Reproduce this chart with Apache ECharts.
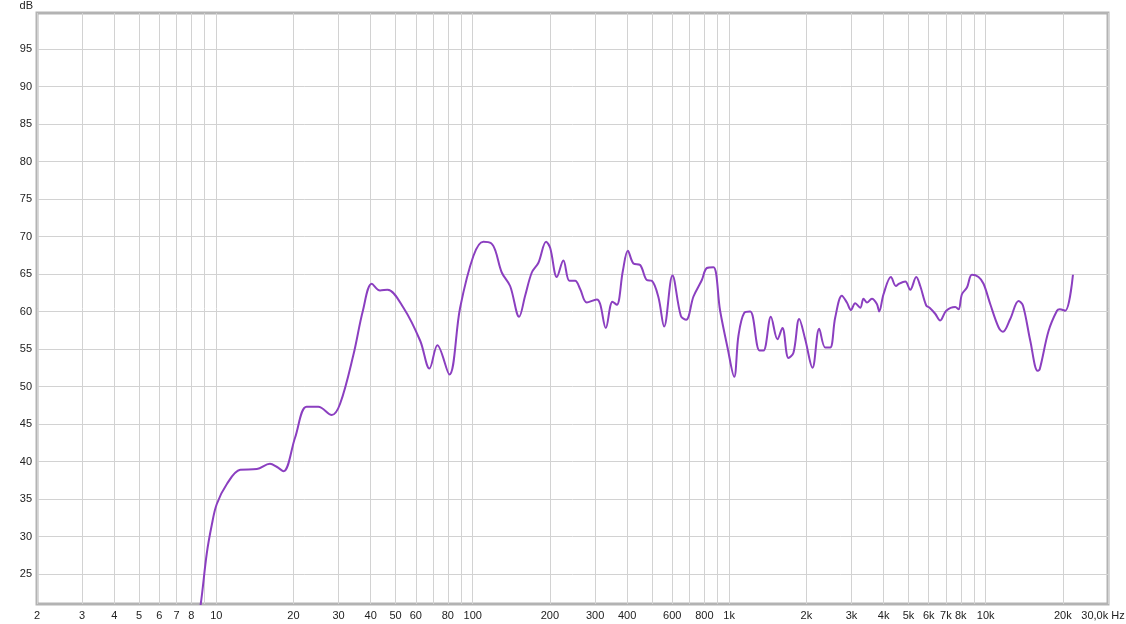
<!DOCTYPE html>
<html>
<head>
<meta charset="utf-8">
<script src="https://cdn.jsdelivr.net/npm/echarts@6/dist/echarts.min.js"></script>
<style>
html,body{margin:0;padding:0;background:#fff;}
#chart{width:1126px;height:624px;}
</style>
</head>
<body>
<div id="chart"></div>
<script>
// Frequency (Hz) and level (dB)
const freqs = [8.5, 8.7, 9.18, 9.6, 10.04, 11.0, 12.4, 14.4, 16.2, 17.2, 18.3, 20.3, 22.5, 25.0, 28.2, 30.4, 34.3, 37.3, 40.4, 43.5, 46.5, 53.7, 62.4, 67.8, 72.8, 81.1, 89.3, 100.6, 110, 118, 122.6, 129.8, 139.9, 151.7, 160.1, 170, 180.4, 193.3, 200.4, 212.8, 225.7, 238.2, 250.8, 262.3, 278.5, 304.8, 314, 330.4, 350.6, 364.7, 384.9, 402.6, 423.3, 449.5, 477.4, 499.3, 529.8, 557.7, 601.1, 648.2, 679.7, 725.8, 782.5, 818.5, 868.4, 921.9, 985.1, 1046, 1087, 1144, 1208, 1313, 1361, 1454, 1543, 1613, 1703, 1781, 1875, 1979, 2113, 2244, 2369, 2477, 2591, 2751, 2877, 2983, 3100, 3243, 3340, 3446, 3601, 3767, 3845, 3998, 4272, 4468, 4596, 4858, 5081, 5363, 5559, 5867, 6046, 6358, 6650, 7019, 7610, 7840, 8082, 8454, 8842, 9382, 9813, 10420, 11230, 11680, 12470, 13440, 13980, 14930, 15940, 16250, 17590, 18970, 19450, 20440, 21900];
const levels = [19.5, 21.0, 27.7, 31.5, 34.3, 37.0, 38.9, 39.0, 39.7, 39.3, 38.7, 43.2, 47.3, 47.3, 46.2, 47.7, 54.3, 60.1, 63.7, 62.8, 62.9, 60.5, 56.1, 52.4, 55.5, 51.6, 60.5, 67.4, 69.3, 69.1, 68.1, 65.2, 63.4, 59.3, 62.1, 65.2, 66.5, 69.3, 68.5, 64.6, 66.8, 64.1, 64.1, 63.0, 61.2, 61.6, 61.0, 57.8, 61.3, 60.9, 65.4, 68.1, 66.4, 66.2, 64.2, 64.1, 61.9, 58.0, 64.8, 59.4, 58.9, 62.0, 64.2, 65.8, 65.9, 60.1, 55.2, 51.3, 56.8, 59.8, 60.0, 54.8, 54.8, 59.3, 56.3, 57.8, 53.8, 54.5, 59.0, 56.3, 52.5, 57.7, 55.2, 55.2, 59.2, 62.1, 61.2, 60.2, 61.1, 60.5, 61.7, 61.2, 61.7, 61.0, 60.0, 62.3, 64.6, 63.4, 63.7, 64.0, 62.9, 64.6, 63.4, 60.8, 60.5, 59.7, 58.8, 60.1, 60.6, 60.3, 62.3, 63.2, 64.9, 64.6, 63.7, 61.0, 57.9, 57.3, 59.0, 61.4, 60.8, 56.1, 52.1, 52.3, 57.4, 60.1, 60.3, 60.1, 64.9];

// Axis ticks
const xGridValues = [2,3,4,5,6,7,8,9,10,20,30,40,50,60,70,80,90,100,200,300,400,500,600,700,800,900,1000,2000,3000,4000,5000,6000,7000,8000,9000,10000,20000,30000];
const xLabelValues = [2,3,4,5,6,7,8,10,20,30,40,50,60,80,100,200,300,400,600,800,1000,2000,3000,4000,5000,6000,7000,8000,10000,20000,30000];
const yTickValues = [25,30,35,40,45,50,55,60,65,70,75,80,85,90,95];

const chart = echarts.init(document.getElementById('chart'), null, {renderer:'canvas'});
const data = freqs.map((f,i)=>[f, levels[i]]);
const font = 'Liberation Sans, Arial, sans-serif';

function fmtX(v){
  const r = Math.round(v);
  if (r === 30000) return '{e|30,0k Hz}';
  if (r >= 1000) return (r/1000) + 'k';
  return String(r);
}

chart.setOption({
  animation:false,
  backgroundColor:'#ffffff',
  grid:{left:37, right:18, top:13, bottom:20, containLabel:false, outerBoundsMode:'none', show:true, borderColor:'#b3b3b3', borderWidth:3, backgroundColor:'#ffffff'},
  xAxis:{
    type:'log', logBase:10, min:2, max:30000,
    axisLine:{show:false},
    axisTick:{show:false, customValues:xGridValues},
    splitLine:{show:true, lineStyle:{color:'#d2d2d2', width:1}},
    axisLabel:{customValues:xLabelValues, formatter:fmtX, color:'#222', fontFamily:font, fontSize:11, margin:6,
      rich:{e:{color:'#222', fontFamily:font, fontSize:11, padding:[0,10,0,0]}}}
  },
  yAxis:{
    type:'value', min:21, max:99.8,
    name:'dB', nameLocation:'end', nameGap:2,
    nameTextStyle:{color:'#222', fontFamily:font, fontSize:11, align:'right', padding:[0,4,0,0]},
    axisLine:{show:false},
    axisTick:{show:false, customValues:yTickValues},
    splitLine:{show:true, lineStyle:{color:'#d2d2d2', width:1}},
    axisLabel:{customValues:yTickValues, color:'#222', fontFamily:font, fontSize:11, margin:5}
  },
  series:[{
    type:'line', data:data, showSymbol:false, smooth:0.35, clip:true,
    lineStyle:{color:'#8b3fc0', width:2}
  }]
});
</script>
</body>
</html>
